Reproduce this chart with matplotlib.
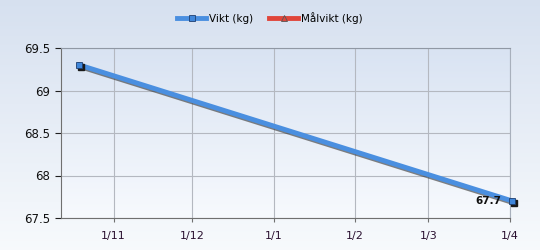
import numpy as np
import pandas as pd
import matplotlib
matplotlib.use('Agg')
import matplotlib.pyplot as plt
import matplotlib.dates as mdates
import matplotlib.patheffects as pe

dates = pd.to_datetime(['2022-10-19', '2023-04-02'])
vikt = [69.3, 67.7]
malvikt_dates = pd.to_datetime([])
malvikt = []
tick_dates = pd.to_datetime(['2022-11-01', '2022-12-01', '2023-01-01', '2023-02-01', '2023-03-01', '2023-04-01'])
tick_labels = ['1/11', '1/12', '1/1', '1/2', '1/3', '1/4']
yticks = [67.5, 68, 68.5, 69, 69.5]
ylabels = ['67.5', '68', '68.5', '69', '69.5']

fig = plt.figure(figsize=(5.4, 2.5), dpi=100)

# background gradient
bg = fig.add_axes([0, 0, 1, 1], zorder=-10)
grad = np.linspace(0, 1, 256).reshape(-1, 1)
top = np.array([0.84, 0.88, 0.94])
bot = np.array([0.97, 0.98, 0.99])
img = top + (bot - top) * grad[..., None]
bg.imshow(img, aspect='auto', extent=[0, 1, 0, 1])
bg.axis('off')

ax = fig.add_axes([0.113, 0.128, 0.831, 0.68])
ax.set_facecolor('none')
pgrad = np.linspace(0, 1, 256).reshape(-1, 1)
ptop = np.array([0.85, 0.89, 0.95])
pbot = np.array([0.97, 0.98, 0.995])
pimg = ptop + (pbot - ptop) * pgrad[..., None]
ax.imshow(pimg, aspect='auto', extent=[0, 1, 0, 1], transform=ax.transAxes, zorder=0)

shadow = [pe.SimpleLineShadow(offset=(1.5, -1.5), shadow_color='#303030', alpha=0.6), pe.Normal()]
offs = ax.transData + matplotlib.transforms.ScaledTranslation(1.5/72, -1.5/72, fig.dpi_scale_trans)
# line with shadow
ax.plot(dates, vikt, color='#4a8fe0', lw=3.5, path_effects=shadow, clip_on=False, zorder=5)
# markers: dark shadow square then blue square
ax.plot(dates, vikt, ls='none', marker='s', ms=5, mfc='#1a1a1a', mec='#1a1a1a',
        transform=offs, clip_on=False, zorder=5.5)
ax.plot(dates, vikt, ls='none', marker='s', ms=5, mfc='#3f86da', mec='#1f3f70', mew=0.6,
        clip_on=False, zorder=6)
# legend proxies
ax.plot([], [], color='#4a8fe0', lw=3.5, marker='s', ms=5, mfc='#3f86da', mec='#1f3f70',
        mew=0.6, label='Vikt (kg)')
ax.plot(malvikt_dates, malvikt, color='#e0453a', lw=3.5, marker='^', ms=5,
        mfc='#e0453a', mec='#555555', mew=0.6, label='Målvikt (kg)')

ax.annotate('67.7', xy=(dates[-1], vikt[-1]), xytext=(-8, 0), textcoords='offset points',
            ha='right', va='center', fontsize=7.5, fontweight='bold', color='#111111',
            zorder=7, annotation_clip=False)

ax.set_xlim(pd.Timestamp('2022-10-12'), pd.Timestamp('2023-04-01'))
ax.set_ylim(67.5, 69.5)
ax.set_xticks(mdates.date2num(tick_dates))
ax.set_xticklabels(tick_labels)
ax.set_yticks(yticks)
ax.set_yticklabels(ylabels)
ax.tick_params(axis='x', labelsize=8, colors='#707070', labelcolor='#2a1030', length=3, pad=6)
ax.tick_params(axis='y', labelsize=8.5, colors='#202020', labelcolor='#101010', length=4, pad=4)
ax.grid(True, color='#b4b8c0', lw=0.8, zorder=1)
for s in ['left', 'bottom']:
    ax.spines[s].set_color('#707070')
ax.spines['top'].set_color('#9098a4')
ax.spines['right'].set_color('#a8b0bc')

fig.legend(loc='upper center', bbox_to_anchor=(0.5, 0.99), ncol=2, frameon=False,
           fontsize=7.5, handlelength=2.8, columnspacing=1.5, handletextpad=0.3)

fig.savefig('out.png', dpi=100)
